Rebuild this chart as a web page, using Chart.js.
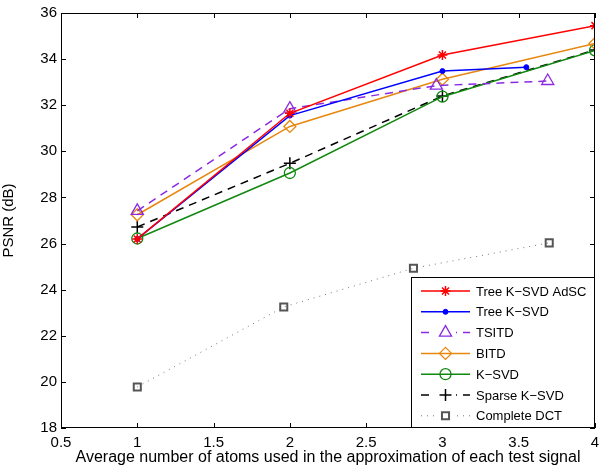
<!DOCTYPE html>
<html>
<head>
<meta charset="utf-8">
<script src="https://cdn.jsdelivr.net/npm/chart.js@4"></script>
<style>
  html, body { margin: 0; padding: 0; background: #fff; }
  #wrap { width: 608px; height: 469px; }
</style>
</head>
<body>
<div id="wrap"><canvas id="psnrChart" width="608" height="469"></canvas></div>
<script>
const xTicks = [0.5, 1, 1.5, 2, 2.5, 3, 3.5, 4];
const yTicks = [18, 20, 22, 24, 26, 28, 30, 32, 34, 36];

const seriesNames = ['Tree K\u2212SVD AdSC', 'Tree K\u2212SVD', 'TSITD', 'BITD', 'K\u2212SVD', 'Sparse K\u2212SVD', 'Complete DCT'];

const adscX = [1, 2, 3, 4];
const adscY = [26.2, 31.65, 34.18, 35.45];
const treeX = [1, 2, 3, 3.55];
const treeY = [26.2, 31.55, 33.48, 33.65];
const tsitdX = [1, 2, 2.96, 3.69];
const tsitdY = [27.42, 31.85, 32.85, 33.05];
const bitdX = [1, 2, 3, 4];
const bitdY = [27.25, 31.08, 33.13, 34.68];
const ksvdX = [1, 2, 3, 4];
const ksvdY = [26.22, 29.06, 32.37, 34.38];
const sparseX = [1, 2, 3, 4];
const sparseY = [26.72, 29.48, 32.4, 34.4];
const dctX = [1, 1.96, 2.81, 3.7];
const dctY = [19.78, 23.25, 24.93, 26.03];

const pts = (xs, ys) => xs.map((x, i) => ({ x: x, y: ys[i] }));
const FONT = '"Liberation Sans", Arial, sans-serif';

const datasets = [
    { label: seriesNames[0], data: pts(adscX, adscY), borderColor: '#ff0000', backgroundColor: '#ff0000', borderWidth: 1.5, pointStyle: 'star', pointRadius: 5, pointBorderWidth: 1.5 },
    { label: seriesNames[1], data: pts(treeX, treeY), borderColor: '#0000ff', backgroundColor: '#0000ff', borderWidth: 1.5, pointStyle: 'circle', pointRadius: 2.5, pointBorderWidth: 1 },
    { label: seriesNames[2], data: pts(tsitdX, tsitdY), borderColor: '#8a2be2', backgroundColor: 'rgba(0,0,0,0)', borderWidth: 1.5, borderDash: [8, 6], pointStyle: 'triangle', pointRadius: 7, pointBorderWidth: 1.3 },
    { label: seriesNames[3], data: pts(bitdX, bitdY), borderColor: '#e8870e', backgroundColor: 'rgba(0,0,0,0)', borderWidth: 1.5, pointStyle: 'rectRot', pointRadius: 6, pointBorderWidth: 1.3 },
    { label: seriesNames[4], data: pts(ksvdX, ksvdY), borderColor: '#118811', backgroundColor: 'rgba(0,0,0,0)', borderWidth: 1.5, pointStyle: 'circle', pointRadius: 5.5, pointBorderWidth: 1.3 },
    { label: seriesNames[5], data: pts(sparseX, sparseY), borderColor: '#000000', backgroundColor: '#000000', borderWidth: 1.5, borderDash: [8, 6], pointStyle: 'cross', pointRadius: 6, pointBorderWidth: 1.5 },
    { label: seriesNames[6], data: pts(dctX, dctY), borderColor: '#777777', backgroundColor: 'rgba(0,0,0,0)', borderWidth: 1, borderDash: [1, 5], pointStyle: 'rect', pointRadius: 5, pointBorderColor: '#555555', pointBorderWidth: 2 }
];

// matlab-style frame, inward ticks and boxed legend
const matlabFrame = {
    id: 'matlabFrame',
    afterDatasetsDraw(chart) {
        const ctx = chart.ctx;
        const a = chart.chartArea;
        const xs = chart.scales.x, ys = chart.scales.y;
        ctx.save();
        ctx.strokeStyle = '#000';
        ctx.lineWidth = 1;
        ctx.setLineDash([]);
        ctx.strokeRect(a.left + 0.5, a.top + 0.5, a.right - a.left - 1, a.bottom - a.top - 1);
        ctx.beginPath();
        xTicks.forEach(v => {
            const px = Math.round(xs.getPixelForValue(v)) + 0.5;
            ctx.moveTo(px, a.bottom); ctx.lineTo(px, a.bottom - 5);
            ctx.moveTo(px, a.top); ctx.lineTo(px, a.top + 5);
        });
        yTicks.forEach(v => {
            const py = Math.round(ys.getPixelForValue(v)) + 0.5;
            ctx.moveTo(a.left, py); ctx.lineTo(a.left + 5, py);
            ctx.moveTo(a.right, py); ctx.lineTo(a.right - 5, py);
        });
        ctx.stroke();

        // legend box
        const bx = 411, by = 277, bw = a.right - 411 - 1, bh = a.bottom - 277 - 1;
        ctx.fillStyle = '#fff';
        ctx.fillRect(bx, by, bw, bh);
        ctx.strokeRect(bx + 0.5, by + 0.5, bw, bh);
        ctx.font = '13px ' + FONT;
        ctx.textBaseline = 'middle';
        chart.data.datasets.forEach((ds, i) => {
            const yy = by + 14 + i * 20.8;
            ctx.save();
            ctx.strokeStyle = ds.borderColor;
            ctx.lineWidth = ds.borderWidth;
            ctx.setLineDash(ds.borderDash || []);
            ctx.beginPath();
            ctx.moveTo(421, yy); ctx.lineTo(470, yy);
            ctx.stroke();
            ctx.setLineDash([]);
            ctx.fillStyle = '#fff';
            if (ds.borderDash) ctx.fillRect(434, yy - 8, 22, 16);
            ctx.strokeStyle = ds.pointBorderColor || ds.borderColor;
            ctx.lineWidth = ds.pointBorderWidth;
            ctx.fillStyle = ds.backgroundColor;
            Chart.helpers.drawPoint(ctx, { pointStyle: ds.pointStyle, radius: ds.pointRadius, borderWidth: ds.pointBorderWidth, rotation: 0 }, 445.5, yy);
            ctx.restore();
            ctx.fillStyle = '#000';
            ctx.fillText(ds.label, 476, yy + 1);
        });
        ctx.restore();
    }
};

new Chart(document.getElementById('psnrChart').getContext('2d'), {
    type: 'line',
    data: { datasets: datasets },
    plugins: [matlabFrame],
    options: {
        responsive: false,
        animation: false,
        devicePixelRatio: 1,
        layout: { padding: { top: 10, right: 13, left: 0, bottom: 0 } },
        plugins: { legend: { display: false }, tooltip: { enabled: false } },
        elements: { line: { tension: 0 } },
        scales: {
            x: {
                type: 'linear', min: 0.5, max: 4,
                afterBuildTicks: s => { s.ticks = xTicks.map(v => ({ value: v })); },
                afterFit: s => { s.height = 41; },
                grid: { drawOnChartArea: false, drawTicks: false },
                border: { display: false },
                ticks: { color: '#000', padding: 6, maxRotation: 0, callback: v => String(v), font: { family: FONT, size: 15 } },
                title: { display: true, text: 'Average number of atoms used in the approximation of each test signal', color: '#000', padding: { top: 0, bottom: 2 }, font: { family: FONT, size: 16 } }
            },
            y: {
                min: 18, max: 36,
                afterBuildTicks: s => { s.ticks = yTicks.map(v => ({ value: v })); },
                afterFit: s => { s.width = 61; },
                grid: { drawOnChartArea: false, drawTicks: false },
                border: { display: false },
                ticks: { color: '#000', padding: 4, font: { family: FONT, size: 15 } },
                title: { display: true, text: 'PSNR (dB)', color: '#000', padding: { top: 0, bottom: 2 }, font: { family: FONT, size: 15 } }
            }
        }
    }
});
</script>
</body>
</html>
